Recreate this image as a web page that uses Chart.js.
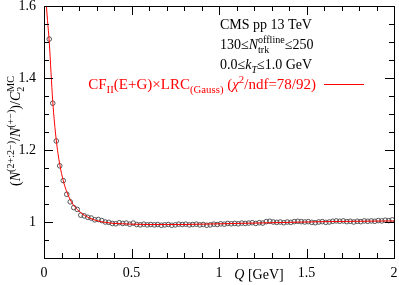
<!DOCTYPE html>
<html>
<head>
<meta charset="utf-8">
<script src="https://cdn.jsdelivr.net/npm/chart.js@4.4.1/dist/chart.umd.min.js"></script>
<style>
  html, body { margin: 0; padding: 0; background: #fff; }
  #wrap { width: 399px; height: 285px; }
</style>
</head>
<body>
<div id="wrap"><canvas id="chart" width="399" height="285"></canvas></div>
<script>
// Measured points: Q bin centres [GeV] and the double ratio
const qValues = [
  0.03, 0.05, 0.07, 0.09, 0.11, 0.13, 0.15, 0.17, 0.19, 0.21,
  0.23, 0.25, 0.27, 0.29, 0.31, 0.33, 0.35, 0.37, 0.39, 0.41,
  0.43, 0.45, 0.47, 0.49, 0.51, 0.53, 0.55, 0.57, 0.59, 0.61,
  0.63, 0.65, 0.67, 0.69, 0.71, 0.73, 0.75, 0.77, 0.79, 0.81,
  0.83, 0.85, 0.87, 0.89, 0.91, 0.93, 0.95, 0.97, 0.99, 1.01,
  1.03, 1.05, 1.07, 1.09, 1.11, 1.13, 1.15, 1.17, 1.19, 1.21,
  1.23, 1.25, 1.27, 1.29, 1.31, 1.33, 1.35, 1.37, 1.39, 1.41,
  1.43, 1.45, 1.47, 1.49, 1.51, 1.53, 1.55, 1.57, 1.59, 1.61,
  1.63, 1.65, 1.67, 1.69, 1.71, 1.73, 1.75, 1.77, 1.79, 1.81,
  1.83, 1.85, 1.87, 1.89, 1.91, 1.93, 1.95, 1.97, 1.99
];
const ratioValues = [
  1.508, 1.330, 1.225, 1.156, 1.115, 1.077, 1.056, 1.040, 1.035, 1.019,
  1.017, 1.013, 1.011, 1.006, 1.007, 1.004, 1.000, 0.999, 0.996, 0.995,
  0.998, 0.996, 0.997, 0.994, 0.997, 0.993, 0.992, 0.994, 0.992, 0.993,
  0.992, 0.993, 0.991, 0.992, 0.993, 0.991, 0.992, 0.994, 0.993, 0.994,
  0.992, 0.993, 0.994, 0.992, 0.993, 0.991, 0.992, 0.994, 0.993, 0.995,
  0.994, 0.996, 0.995, 0.996, 0.995, 0.997, 0.996, 0.997, 0.998, 0.996,
  0.998, 0.997, 1.001, 1.002, 1.000, 0.999, 1.000, 0.998, 1.000, 0.999,
  1.001, 1.002, 1.001, 1.000, 1.001, 0.999, 0.998, 1.000, 1.001, 0.999,
  1.000, 1.002, 1.003, 1.002, 1.003, 1.001, 1.002, 1.000, 1.002, 1.001,
  1.003, 1.002, 1.003, 1.002, 1.004, 1.003, 1.005, 1.004, 1.006
];

// Fit curve
const fitQ = [
  0.012, 0.02, 0.03, 0.04, 0.05, 0.06, 0.07, 0.08, 0.09, 0.10,
  0.12, 0.14, 0.16, 0.18, 0.20, 0.23, 0.26, 0.30, 0.35, 0.40,
  0.45, 0.50, 0.60, 0.70, 0.80, 0.90, 1.00, 1.20, 1.40, 1.60,
  1.80, 2.00
];
const fitValues = [
  1.610, 1.560, 1.500, 1.415, 1.335, 1.275, 1.228, 1.190, 1.160, 1.135,
  1.098, 1.072, 1.053, 1.040, 1.030, 1.019, 1.011, 1.004, 0.999, 0.996,
  0.995, 0.994, 0.993, 0.993, 0.993, 0.994, 0.995, 0.997, 0.999, 1.001,
  1.002, 1.003
];

const xTicks = [0, 0.5, 1, 1.5, 2];
const yTicks = [1, 1.2, 1.4, 1.6];

const SERIF = '"Liberation Serif", "DejaVu Serif", serif';
const fontStr = (size, italic) => `${italic ? 'italic ' : ''}${size}px ${SERIF}`;
const SCRIPT = 0.72;

// tiny rich-text helper: parts are {t, i, s:'sup'|'sub'} or {sup, sub}
function richWidth(ctx, parts, size) {
  let w = 0;
  for (const p of parts) {
    if (p.t !== undefined) {
      ctx.font = fontStr(p.s ? size * SCRIPT : size, p.i);
      w += ctx.measureText(p.t).width;
    } else {
      ctx.font = fontStr(size * SCRIPT, p.i);
      w += Math.max(ctx.measureText(p.sup || '').width, ctx.measureText(p.sub || '').width);
    }
  }
  return w;
}
function drawRich(ctx, parts, x, y, size, align, color) {
  const w = richWidth(ctx, parts, size);
  let cx = align === 'right' ? x - w : align === 'center' ? x - w / 2 : x;
  ctx.fillStyle = color;
  ctx.textAlign = 'left';
  ctx.textBaseline = 'alphabetic';
  for (const p of parts) {
    if (p.t !== undefined) {
      ctx.font = fontStr(p.s ? size * SCRIPT : size, p.i);
      const dy = p.s === 'sup' ? -size * 0.42 : p.s === 'sub' ? size * 0.25 : 0;
      ctx.fillText(p.t, cx, y + dy);
      cx += ctx.measureText(p.t).width;
    } else {
      ctx.font = fontStr(size * SCRIPT, p.i);
      let ww = 0;
      if (p.sup) { ctx.fillText(p.sup, cx, y - size * 0.42); ww = ctx.measureText(p.sup).width; }
      if (p.sub) { ctx.fillText(p.sub, cx, y + size * 0.25); ww = Math.max(ww, ctx.measureText(p.sub).width); }
      cx += ww;
    }
  }
}

const frame = {
  id: 'frame',
  afterDraw(chart) {
    const { ctx, chartArea: a, scales: { x, y } } = chart;
    ctx.save();
    ctx.strokeStyle = '#000';
    ctx.lineWidth = 1;
    ctx.strokeRect(Math.round(a.left) + 0.5, Math.round(a.top) + 0.5,
      Math.round(a.right - a.left), Math.round(a.bottom - a.top));
    ctx.beginPath();
    // x ticks, inward on bottom and top
    for (let k = 0; k <= 20; k++) {
      const px = Math.round(x.getPixelForValue(k / 10)) + 0.5;
      const len = k % 5 === 0 ? 9 : 5;
      ctx.moveTo(px, a.bottom); ctx.lineTo(px, a.bottom - len);
      ctx.moveTo(px, a.top); ctx.lineTo(px, a.top + len);
    }
    // y ticks, inward on left and right
    for (let k = 0; k <= 14; k++) {
      const py = Math.round(y.getPixelForValue(0.9 + k * 0.05)) + 0.5;
      const len = (k - 2) % 4 === 0 ? 9 : 5;
      ctx.moveTo(a.left, py); ctx.lineTo(a.left + len, py);
      ctx.moveTo(a.right, py); ctx.lineTo(a.right - len, py);
    }
    ctx.stroke();

    // axis titles
    drawRich(ctx, [{ t: 'Q', i: true }, { t: ' [GeV]' }], 259, 279, 14, 'center', '#000');
    ctx.save();
    ctx.translate(20, 131);
    ctx.rotate(-Math.PI / 2);
    drawRich(ctx, [
      { t: '(' }, { t: 'N', i: true }, { t: '(2+:2−)', s: 'sup' },
      { t: '/' }, { t: 'N', i: true }, { t: '(+−)', s: 'sup' },
      { t: ')/' }, { t: 'C', i: true }, { sup: 'MC', sub: '2' }
    ], 0, 0, 14, 'center', '#000');
    ctx.restore();

    // legend block
    drawRich(ctx, [{ t: 'CMS pp 13 TeV' }], 220, 29, 14, 'left', '#000');
    drawRich(ctx, [{ t: '130≤' }, { t: 'N', i: true }, { sup: 'offline', sub: 'trk' }, { t: '≤250' }],
      220, 49, 14, 'left', '#000');
    drawRich(ctx, [{ t: '0.0≤' }, { t: 'k', i: true }, { t: 'T', i: true, s: 'sub' }, { t: '≤1.0 GeV' }],
      220, 69, 14, 'left', '#000');
    drawRich(ctx, [
      { t: 'CF' }, { t: 'II', s: 'sub' }, { t: '(E+G)×LRC' }, { t: '(Gauss)', s: 'sub' },
      { t: ' (' }, { t: 'χ', i: true }, { t: '2', s: 'sup' }, { t: '/ndf=78/92)' }
    ], 316, 89, 15, 'right', '#ff0000');
    ctx.strokeStyle = '#ff0000';
    ctx.beginPath();
    ctx.moveTo(324, 84.5); ctx.lineTo(364, 84.5);
    ctx.stroke();
    ctx.restore();
  }
};

new Chart(document.getElementById('chart').getContext('2d'), {
  type: 'scatter',
  data: {
    datasets: [
      {
        label: 'data',
        data: qValues.map((q, i) => ({ x: q, y: ratioValues[i] })),
        pointStyle: 'circle', pointRadius: 2.3, borderWidth: 1,
        borderColor: '#555', backgroundColor: 'rgba(0,0,0,0)',
        order: 2,
      },
      {
        label: 'fit',
        type: 'line',
        data: fitQ.map((q, i) => ({ x: q, y: fitValues[i] })),
        borderColor: '#ff0000', borderWidth: 1, pointRadius: 0,
        cubicInterpolationMode: 'monotone', fill: false,
        order: 1,
      }
    ]
  },
  options: {
    responsive: false, animation: false,
    layout: { padding: { left: 0, right: 4, top: 6, bottom: 0 } },
    plugins: { legend: { display: false }, tooltip: { enabled: false } },
    scales: {
      x: {
        type: 'linear', min: 0, max: 2,
        grid: { display: false, drawTicks: false },
        border: { display: false },
        afterBuildTicks: s => { s.ticks = xTicks.map(v => ({ value: v })); },
        afterFit: s => { s.height = 27; s.paddingLeft = 0; s.paddingRight = 0; },
        ticks: { color: '#000', font: { family: SERIF, size: 14 }, padding: 7, maxRotation: 0,
          callback: v => String(v) },
      },
      y: {
        type: 'linear', min: 0.9, max: 1.6,
        grid: { display: false, drawTicks: false },
        border: { display: false },
        afterBuildTicks: s => { s.ticks = yTicks.map(v => ({ value: v })); },
        afterFit: s => { s.width = 44; s.paddingTop = 0; s.paddingBottom = 0; },
        ticks: { color: '#000', font: { family: SERIF, size: 14 }, padding: 8,
          callback: v => String(v) },
      }
    }
  },
  plugins: [frame]
});
</script>
</body>
</html>
